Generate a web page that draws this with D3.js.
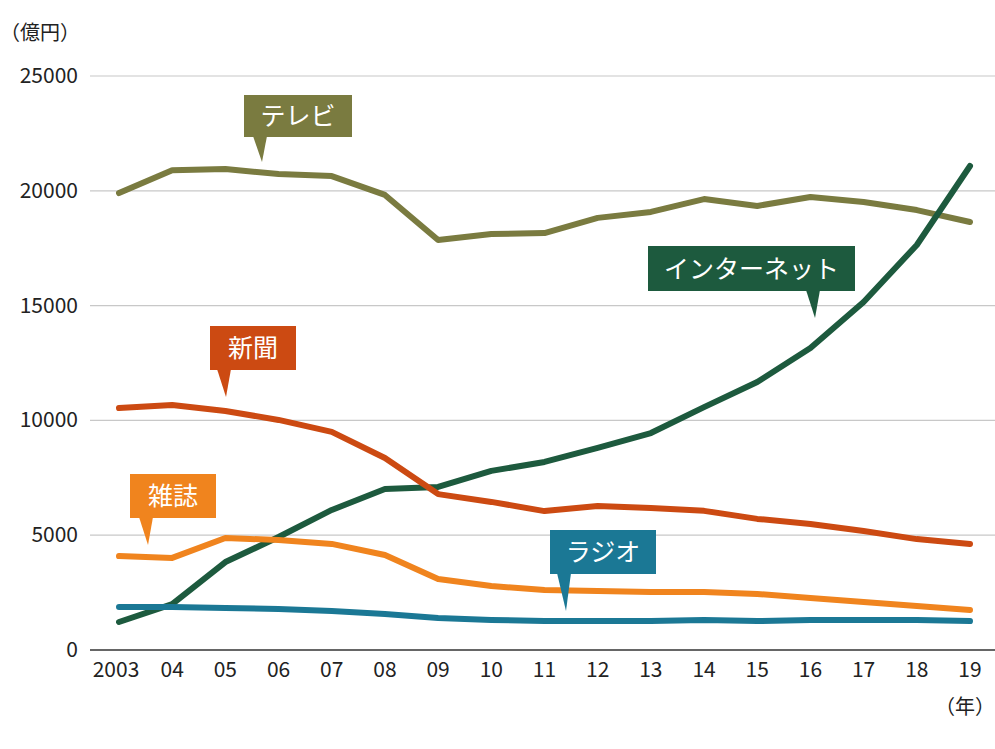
<!DOCTYPE html>
<html><head><meta charset="utf-8">
<script src="https://cdn.jsdelivr.net/npm/d3@7"></script>
<style>body{margin:0;background:#fff}text{font-family:"Noto Sans CJK JP","Noto Sans",sans-serif}</style>
</head><body><svg id="c" width="995" height="749"></svg>
<script>
const years = ["2003","04","05","06","07","08","09","10","11","12","13","14","15","16","17","18","19"];
const tv = [19900,20900,20950,20730,20640,19820,17860,18120,18160,18820,19080,19640,19340,19730,19510,19160,18640];
const internet = [1220,2000,3830,4920,6100,7010,7100,7800,8190,8800,9450,10580,11670,13150,15160,17640,21080];
const newspaper = [10540,10670,10410,10020,9500,8360,6790,6450,6050,6270,6190,6060,5710,5490,5180,4830,4620];
const magazine = [4090,4010,4880,4790,4620,4140,3090,2790,2610,2570,2530,2530,2440,2260,2090,1920,1740];
const radio = [1870,1870,1830,1790,1700,1570,1390,1310,1260,1260,1260,1310,1260,1310,1310,1310,1260];
const yTicks = [0,5000,10000,15000,20000,25000];

const series = [
  {name:"テレビ", v:tv, color:"#7a7b40", box:[244,95,108,42], tail:[262,162]},
  {name:"インターネット", v:internet, color:"#1d5a3e", box:[648,246,207,45], tail:[815,318]},
  {name:"新聞", v:newspaper, color:"#cc4a12", box:[210,326,86,44], tail:[226,397]},
  {name:"雑誌", v:magazine, color:"#f0841e", box:[130,474,86,44], tail:[148,545]},
  {name:"ラジオ", v:radio, color:"#1b7895", box:[550,530,106,44], tail:[566,611]}
];

const svg = d3.select("#c");
const x = d3.scalePoint().domain(years).range([119,970]);
const y = d3.scaleLinear().domain([0,25000]).range([650,76]);

// grid
svg.selectAll(".g").data(yTicks).enter().append("line")
  .attr("x1",90).attr("x2",995).attr("y1",d=>y(d)).attr("y2",d=>y(d))
  .attr("stroke",d=>d===0?"#333":"#c8c8c8").attr("stroke-width",d=>d===0?1.5:1.2);
svg.selectAll(".yl").data(yTicks).enter().append("text")
  .attr("x",78).attr("y",d=>y(d)+7).attr("text-anchor","end")
  .attr("font-size",21).attr("fill","#222").text(d=>d);
svg.selectAll(".xl").data(years).enter().append("text")
  .attr("x",d=>x(d)+(d==="2003"?-3:0)).attr("y",677).attr("text-anchor","middle")
  .attr("font-size",21).attr("fill","#222").text(d=>d);
svg.append("text").attr("x",0).attr("y",40).attr("font-size",20).attr("fill","#222").text("（億円）");
svg.append("text").attr("x",995).attr("y",714).attr("text-anchor","end").attr("font-size",20).attr("fill","#222").text("（年）");

const line = d3.line().x((d,i)=>x(years[i])).y(d=>y(d));
series.forEach(s=>{
  svg.append("path").attr("d",line(s.v)).attr("fill","none")
    .attr("stroke",s.color).attr("stroke-width",6).attr("stroke-linejoin","round").attr("stroke-linecap","round");
});
series.forEach(s=>{
  const [bx,by,bw,bh]=s.box, [tx,ty]=s.tail;
  svg.append("rect").attr("x",bx).attr("y",by).attr("width",bw).attr("height",bh).attr("fill",s.color);
  const ax = tx - 3;
  svg.append("path").attr("d",`M${ax-6},${by+bh-1}L${ax+8},${by+bh-1}L${tx},${ty}Z`).attr("fill",s.color);
  svg.append("text").attr("x",bx+bw/2).attr("y",by+bh/2+9).attr("text-anchor","middle")
    .attr("font-size",25).attr("fill","#fff").text(s.name);
});
</script></body></html>
